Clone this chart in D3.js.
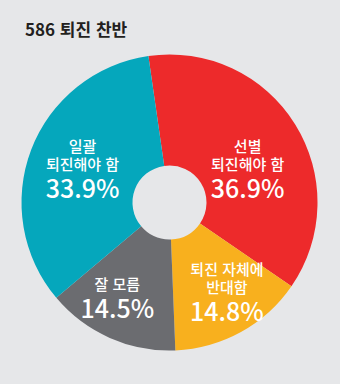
<!doctype html>
<html lang="ko">
<head>
<meta charset="utf-8">
<script src="https://d3js.org/d3.v7.min.js"></script>
<style>
  body { margin:0; background:#e6e7e9; }
  svg { display:block; font-family:"Noto Sans CJK KR","Noto Sans",sans-serif; }
  .title { font-size:17px; font-weight:700; fill:#231f20; }
  .lab { fill:#fff; text-anchor:middle; font-size:15px; font-weight:500; }
  .pct { fill:#fff; text-anchor:middle; font-size:25px; font-weight:500; }
</style>
</head>
<body>
<div id="chart"></div>
<script>
  // data
  const categories = ["선별 퇴진해야 함", "퇴진 자체에 반대함", "잘 모름", "일괄 퇴진해야 함"];
  const labelLines = [["선별", "퇴진해야 함"], ["퇴진 자체에", "반대함"], ["잘 모름"], ["일괄", "퇴진해야 함"]];
  const values = [36.9, 14.8, 14.5, 33.9];
  const colors = ["#ed2a2b", "#f8b01e", "#6b6c70", "#05a7bc"];

  // label nudges from arc centroid (px)
  const nudge = [[0, 24], [13, 18], [-15, 11], [-1, 8]];

  let width = 340, height = 384;
  let cx = 169.5, cy = 202.5, outerR = 148, innerR = 37;

  let svg = d3.select("#chart").append("svg")
      .attr("width", width).attr("height", height);

  svg.append("rect").attr("width", width).attr("height", height).attr("fill", "#e6e7e9");

  svg.append("text").attr("class", "title")
     .attr("x", 25).attr("y", 36)
     .text("586 퇴진 찬반");

  let start = -8.2 * Math.PI / 180;
  let pie = d3.pie().sort(null).startAngle(start).endAngle(start + 2 * Math.PI);
  let arcs = pie(values);

  let arc = d3.arc().innerRadius(innerR).outerRadius(outerR);
  let labelArc = d3.arc().innerRadius(92).outerRadius(92);

  let g = svg.append("g").attr("transform", `translate(${cx},${cy})`);

  g.selectAll("path").data(arcs).enter().append("path")
   .attr("d", arc)
   .attr("fill", (d, i) => colors[i]);

  let labels = g.selectAll(".slice-label").data(arcs).enter().append("g")
      .attr("class", "slice-label")
      .attr("transform", (d, i) => {
        let c = labelArc.centroid(d);
        return `translate(${c[0] + nudge[i][0]},${c[1] + nudge[i][1]})`;
      });

  labels.each(function(d, i) {
    let sel = d3.select(this);
    let lines = labelLines[i];
    let top = -(lines.length - 1) * 18 - 8;
    lines.forEach((t, k) => {
      sel.append("text").attr("class", "lab")
         .attr("y", top + k * 18).text(t);
    });
    sel.append("text").attr("class", "pct")
       .attr("y", top + (lines.length - 1) * 18 + 28)
       .text(values[i].toFixed(1) + "%");
  });
</script>
</body>
</html>
